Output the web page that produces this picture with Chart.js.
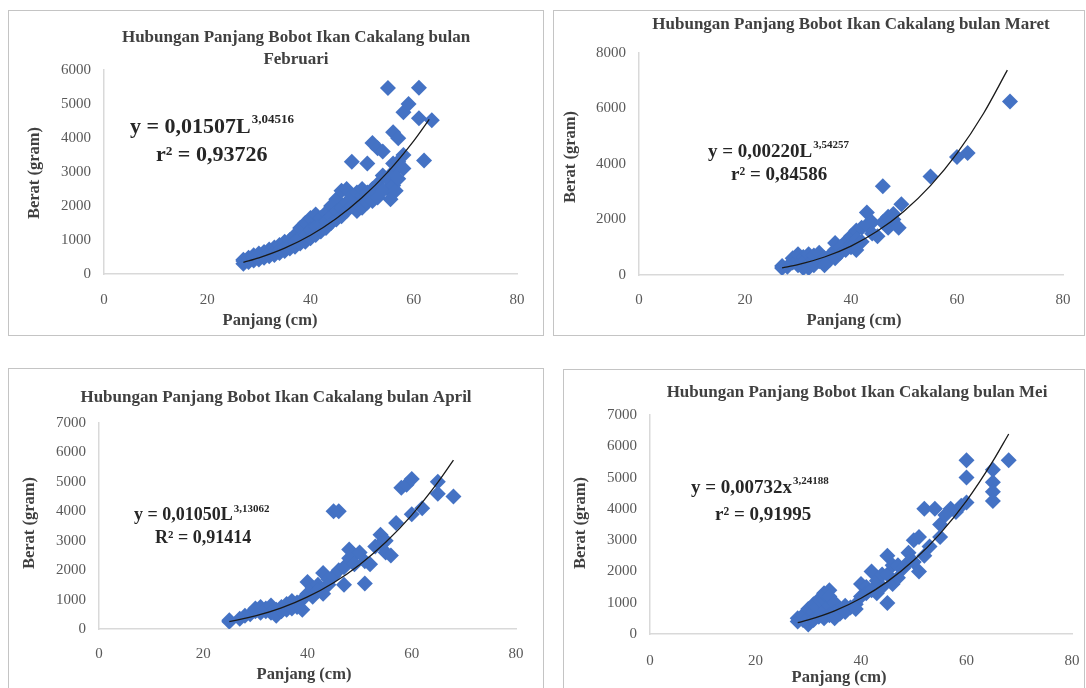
<!DOCTYPE html>
<html lang="id">
<head>
<meta charset="UTF-8">
<title>Hubungan Panjang Bobot Ikan Cakalang</title>
<script src="https://cdn.jsdelivr.net/npm/chart.js"></script>
<style>
  body { margin: 0; width: 1086px; height: 688px; overflow: hidden; background: #fff; }
  .panel { position: absolute; border: 1px solid #c4c4c4; box-sizing: border-box; overflow: hidden; }
  .panel canvas { position: absolute; left: 0; top: 0; }
</style>
</head>
<body>
<div class="panel" id="p1"><canvas id="c1"></canvas></div>
<div class="panel" id="p2"><canvas id="c2"></canvas></div>
<div class="panel" id="p3"><canvas id="c3"></canvas></div>
<div class="panel" id="p4"><canvas id="c4"></canvas></div>
<script>
// sumbu
const xTicks = [0, 20, 40, 60, 80];
const yMaxFeb = 6000, yMaxMar = 8000, yMaxApr = 7000, yMaxMei = 7000;
const yStepFeb = 1000, yStepMar = 2000, yStepApr = 1000, yStepMei = 1000;

// Februari
const febPanjang = [27,27,27,28,28,28,29,29,29,30,30,30,31,31,31,32,32,32,33,33,33,34,34,34,35,35,35,36,36,36,37,37,37,38,38,38,39,39,39,40,40,40,41,41,41,42,42,42,43,43,43,44,44,44,45,45,45,46,46,46,47,47,47,48,48,48,49,49,49,50,50,50,51,51,51,52,52,52,53,53,53,54,54,54,55,55,55,55.5,56,56,56,56,56.5,57,57,57,58,58,58,59,61,61,62,63.5];
const febBerat   = [300,420,380,350,480,420,400,550,470,430,600,520,480,650,560,520,720,600,560,780,650,620,850,700,680,950,780,750,1000,850,800,1150,950,900,1350,1050,950,1500,1150,1050,1650,1300,1150,1750,1400,1250,1650,1450,1350,1800,1550,1500,2000,1700,1600,2200,1850,1700,2450,1950,1850,2500,2100,2000,2300,3300,1850,2150,2400,1950,2300,2500,2100,2400,3250,2150,2500,3850,2250,2650,3700,2450,2900,3600,2500,2800,5470,2200,2600,3000,4170,3250,2450,2800,3300,3990,3100,3500,4760,5000,5480,4580,3340,4520];
const febTrendX  = [27,30,35,40,45,50,55,60,63];
const febTrendY  = [344,475,760,1140,1632,2247,3003,3915,4548];

// Maret
const marPanjang = [27,27,28,29,29,30,30,30,31,31,31,32,32,32,33,33,33,34,34,35,35,35,36,36,37,37,37,38,38,39,39,40,40,40,41,41,41,42,42,43,43,44,44,45,46,46,47,47,48,48,49,49.5,55,60,62,70];
const marBerat   = [320,250,300,450,600,550,750,350,650,450,250,750,400,250,550,700,350,500,800,600,450,350,700,550,900,600,1150,800,1000,1200,900,1400,1100,1000,1600,1300,900,1700,1200,2250,1800,1900,1500,1400,1900,3200,1700,2100,2200,2000,1700,2550,3550,4250,4400,6250];
const marTrendX  = [27,30,35,40,45,50,55,60,65,69.5];
const marTrendY  = [259,376,649,1043,1584,2299,3221,4383,5821,7381];

// April
const aprPanjang = [25,25,27,28,29,30,30,31,31,32,32,33,33,34,34,35,35,36,36,37,37,38,38,39,39,40,40,41,41,42,42,43,43,44,44,45,45,46,46,47,47,48,48,49,49,50,51,51,52,53,54,54,55,55,56,57,58,59,60,60,62,65,65,68];
const aprBerat   = [300,250,350,450,500,600,700,550,750,600,700,800,550,650,450,750,600,850,650,950,700,900,750,1000,650,1600,1200,1400,1100,1500,1300,1900,1200,1700,1500,4000,1800,4000,2000,1500,2100,2700,2400,2500,2200,2600,1550,2300,2200,2800,3200,2900,3000,2600,2500,3600,4800,4900,5100,3900,4100,5000,4600,4500];
const aprTrendX  = [25,30,35,40,45,50,55,60,65,68];
const aprTrendY  = [250,442,716,1089,1573,2187,2947,3872,4979,5737];

// Mei
const meiPanjang = [28,28,29,29,30,30,30,31,31,31,32,32,32,33,33,33,33,34,34,34,34,35,35,35,36,36,37,37,38,39,39,40,40,41,41,42,42,43,43,44,44,45,45,45,46,46,47,47,48,49,49,50,50,51,51,52,52,53,54,55,55,56,57,58,59,60,60,60,65,65,65,65,68];
const meiBerat   = [500,400,600,450,300,500,800,700,450,950,900,550,1100,1100,700,1300,500,1400,900,600,1200,1000,700,500,800,650,900,700,850,950,800,1600,1200,1500,1300,2000,1400,1700,1300,1500,1900,2500,1900,990,2200,1600,1800,2200,2100,2600,2300,3000,2300,3100,2000,2500,4000,2800,4000,3100,3500,3800,4000,3900,4100,5550,5000,4200,5250,4850,4550,4250,5550];
const meiTrendX  = [28,30,35,40,45,50,55,60,65,68];
const meiTrendY  = [360,450,741,1144,1674,2356,3210,4256,5524,6394];

const biru = '#4472C4';
const abu = '#595959';
const teks = '#404040';
const serif = '"Liberation Serif", "DejaVu Serif", serif';

function titik(xs, ys) {
  return xs.map((x, i) => ({ x: x, y: ys[i] }));
}

// gambar teks judul, persamaan dan judul sumbu (koordinat halaman)
const teksPlugin = {
  id: 'teksPanel',
  afterDraw(chart, args, opts) {
    const ctx = chart.ctx;
    const ox = opts.ox, oy = opts.oy;
    ctx.save();
    ctx.fillStyle = teks;
    ctx.textBaseline = 'middle';
    ctx.textAlign = 'center';
    ctx.font = 'bold ' + opts.titleSize + 'px ' + serif;
    opts.title.forEach(t => ctx.fillText(t.text, t.x - ox, t.y - oy));

    ctx.font = 'bold ' + opts.axisSize + 'px ' + serif;
    ctx.fillText(opts.xTitle.text, opts.xTitle.x - ox, opts.xTitle.y - oy);
    ctx.save();
    ctx.translate(opts.yTitle.x - ox, opts.yTitle.y - oy);
    ctx.rotate(-Math.PI / 2);
    ctx.fillText(opts.yTitle.text, 0, 0);
    ctx.restore();

    // persamaan
    ctx.fillStyle = '#262626';
    ctx.textAlign = 'left';
    const e = opts.eq;
    ctx.font = 'bold ' + e.size + 'px ' + serif;
    ctx.fillText(e.main, e.x - ox, e.y - oy);
    const w = ctx.measureText(e.main).width;
    ctx.font = 'bold ' + Math.round(e.size * 0.6) + 'px ' + serif;
    ctx.fillText(e.sup, e.x - ox + w + 1, e.y - oy - e.size * 0.35);
    ctx.font = 'bold ' + e.size + 'px ' + serif;
    ctx.fillText(e.r2, e.x2 - ox, e.y2 - oy);
    ctx.restore();
  }
};

function buatPanel(cfg) {
  const div = document.getElementById(cfg.div);
  div.style.left = cfg.box[0] + 'px';
  div.style.top = cfg.box[1] + 'px';
  div.style.width = cfg.box[2] + 'px';
  div.style.height = cfg.box[3] + 'px';
  const cw = cfg.box[2] - 2, ch = cfg.box[3] - 2;
  const ox = cfg.box[0] + 1, oy = cfg.box[1] + 1;
  const canvas = document.getElementById(cfg.canvas);
  canvas.width = cw;
  canvas.height = ch;
  const a = cfg.area; // kiri, atas, kanan, bawah (halaman)

  new Chart(canvas, {
    type: 'scatter',
    data: {
      datasets: [
        {
          label: 'Trendline',
          data: titik(cfg.trendX, cfg.trendY),
          showLine: true,
          pointRadius: 0,
          borderColor: '#1a1a1a',
          borderWidth: 1.3,
          cubicInterpolationMode: 'monotone',
          order: 0
        },
        {
          label: 'Data',
          data: titik(cfg.xs, cfg.ys),
          pointStyle: 'rectRot',
          pointRadius: 8,
          backgroundColor: biru,
          borderColor: biru,
          borderWidth: 0,
          order: 1
        }
      ]
    },
    options: {
      responsive: false,
      animation: false,
      events: [],
      layout: { padding: { left: 0, bottom: 0, top: a[1] - oy, right: ox + cw - a[2] } },
      plugins: {
        legend: { display: false },
        tooltip: { enabled: false },
        teksPanel: Object.assign({ ox: ox, oy: oy }, cfg.teks)
      },
      scales: {
        x: {
          type: 'linear', min: 0, max: 80,
          afterBuildTicks: s => { s.ticks = xTicks.map(v => ({ value: v })); },
          ticks: { color: abu, font: { family: serif, size: 15 }, padding: cfg.xPad, maxRotation: 0, minRotation: 0, callback: v => String(v) },
          grid: { display: false, drawTicks: false },
          border: { display: true, color: '#d9d9d9', width: 1.5 },
          afterFit: s => {
            s.height = oy + ch - a[3];
            // jarak label tidak boleh menyempitkan area plot
            s.paddingLeft = 8;
            s.paddingRight = 8;
          }
        },
        y: {
          type: 'linear', min: 0, max: cfg.yMax,
          ticks: { stepSize: cfg.yStep, color: abu, font: { family: serif, size: 15 }, padding: 13, callback: v => String(v) },
          grid: { display: false, drawTicks: false },
          border: { display: true, color: '#d9d9d9', width: 1.5 },
          afterFit: s => { s.width = a[0] - ox; }
        }
      }
    },
    plugins: [teksPlugin]
  });
}

buatPanel({
  div: 'p1', canvas: 'c1', box: [8, 10, 536, 326], area: [104, 70, 517, 274], xPad: 17,
  xs: febPanjang, ys: febBerat, trendX: febTrendX, trendY: febTrendY,
  yMax: yMaxFeb, yStep: yStepFeb,
  teks: {
    titleSize: 17, axisSize: 16.5,
    title: [{ text: 'Hubungan Panjang Bobot Ikan Cakalang bulan', x: 296, y: 38 }, { text: 'Februari', x: 296, y: 60 }],
    xTitle: { text: 'Panjang (cm)', x: 270, y: 321 },
    yTitle: { text: 'Berat (gram)', x: 35, y: 173 },
    eq: { main: 'y = 0,01507L', sup: '3,04516', size: 22, x: 130, y: 127, r2: 'r² = 0,93726', x2: 156, y2: 155 }
  }
});

buatPanel({
  div: 'p2', canvas: 'c2', box: [553, 10, 532, 326], area: [639, 53, 1063, 275], xPad: 16,
  xs: marPanjang, ys: marBerat, trendX: marTrendX, trendY: marTrendY,
  yMax: yMaxMar, yStep: yStepMar,
  teks: {
    titleSize: 17, axisSize: 16.5,
    title: [{ text: 'Hubungan Panjang Bobot Ikan Cakalang bulan Maret', x: 851, y: 25 }],
    xTitle: { text: 'Panjang (cm)', x: 854, y: 321 },
    yTitle: { text: 'Berat (gram)', x: 571, y: 157 },
    eq: { main: 'y = 0,00220L', sup: '3,54257', size: 19, x: 708, y: 152, r2: 'r² = 0,84586', x2: 731, y2: 175 }
  }
});

buatPanel({
  div: 'p3', canvas: 'c3', box: [8, 368, 536, 340], area: [99, 423, 516, 629], xPad: 16,
  xs: aprPanjang, ys: aprBerat, trendX: aprTrendX, trendY: aprTrendY,
  yMax: yMaxApr, yStep: yStepApr,
  teks: {
    titleSize: 17, axisSize: 16.5,
    title: [{ text: 'Hubungan Panjang Bobot Ikan Cakalang bulan April', x: 276, y: 398 }],
    xTitle: { text: 'Panjang (cm)', x: 304, y: 675 },
    yTitle: { text: 'Berat (gram)', x: 30, y: 523 },
    eq: { main: 'y = 0,01050L', sup: '3,13062', size: 18, x: 134, y: 515, r2: 'R² = 0,91414', x2: 155, y2: 538 }
  }
});

buatPanel({
  div: 'p4', canvas: 'c4', box: [563, 369, 522, 340], area: [650, 415, 1072, 634], xPad: 18,
  xs: meiPanjang, ys: meiBerat, trendX: meiTrendX, trendY: meiTrendY,
  yMax: yMaxMei, yStep: yStepMei,
  teks: {
    titleSize: 17, axisSize: 16.5,
    title: [{ text: 'Hubungan Panjang Bobot Ikan Cakalang bulan Mei', x: 857, y: 393 }],
    xTitle: { text: 'Panjang (cm)', x: 839, y: 678 },
    yTitle: { text: 'Berat (gram)', x: 581, y: 523 },
    eq: { main: 'y = 0,00732x', sup: '3,24188', size: 19, x: 691, y: 488, r2: 'r² = 0,91995', x2: 715, y2: 515 }
  }
});
</script>
</body>
</html>
